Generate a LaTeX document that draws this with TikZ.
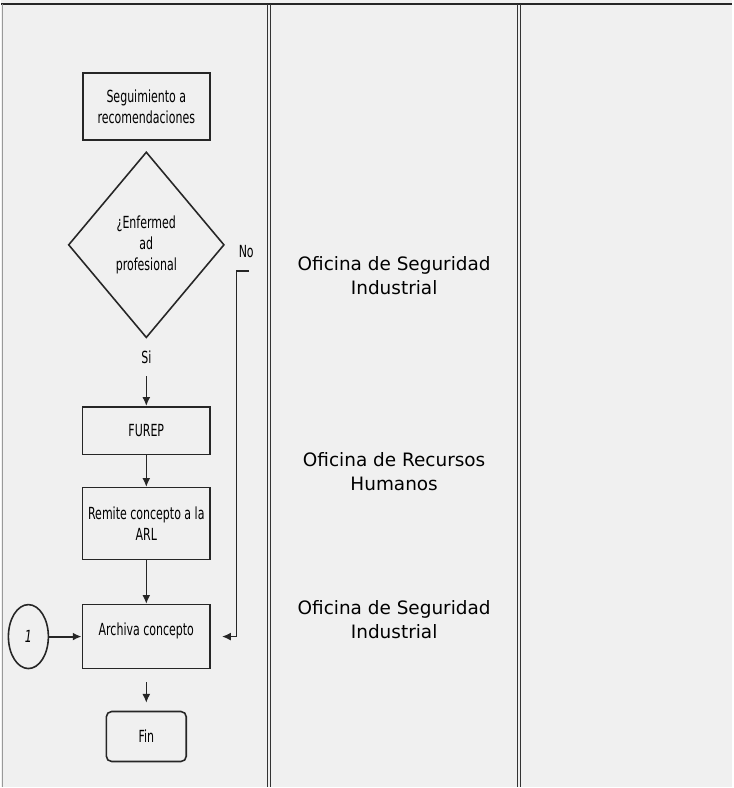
\documentclass[tikz,border=0pt]{standalone}
\usepackage{fontspec}
\setmainfont{DejaVu Sans}
\newfontfamily\boxfont[FakeStretch=0.66]{DejaVu Sans}
\usetikzlibrary{arrows.meta,shapes.geometric}

\begin{document}
\begin{tikzpicture}[x=0.02cm,y=-0.02cm,
  paper/.style={fill=black!6},
  rule/.style={black!80,line width=0.6pt},
  proc/.style={draw=black!85,line width=0.9pt,align=center,inner sep=1pt,minimum width=2.56cm,
    font={\boxfont\fontsize{9.5}{12}\selectfont}},
  dec/.style={diamond,draw=black!85,line width=0.9pt,align=center,inner sep=0pt,aspect=0.84,
    minimum width=3.12cm,minimum height=3.72cm,font={\boxfont\fontsize{9.5}{12}\selectfont}},
  conn/.style={ellipse,draw=black!85,line width=0.9pt,inner sep=0pt,minimum width=0.8cm,
    minimum height=1.28cm,font={\boxfont\fontsize{9.5}{12}\selectfont}},
  lbl/.style={inner sep=1pt,font={\boxfont\fontsize{9.5}{12}\selectfont}},
  area/.style={align=center,font={\fontsize{10.5}{13.6}\selectfont}},
  flow/.style={black!85,line width=0.8pt,-{Latex[length=5pt,width=4.5pt]}}]
  \fill[paper] (0,0) rectangle (731,788);
  % table frame
  \draw[black!85,line width=1.6pt] (0,4) -- (731,4);
  \draw[black!40,line width=0.5pt] (1.5,4) -- (1.5,788);
  \foreach \x in {266,269.5,516,519.5}
    \draw[rule] (\x,4) -- (\x,788);
  % flow column
  \node[proc,minimum width=2.54cm,minimum height=1.34cm] (seg) at (145,106.5) {Seguimiento a\\recomendaciones};
  \node[dec] (enf) at (145,245) {¿Enfermed\\ad\\profesional};
  \node[lbl] (no) at (245,252) {No};
  \node[lbl] (si) at (145,358) {Si};
  \node[proc,minimum height=0.96cm] (furep) at (145,431) {FUREP};
  \node[proc,minimum height=1.44cm] (remite) at (145,524) {Remite concepto a la\\ARL};
  \node[proc,minimum height=1.28cm] (archiva) at (145,637) {\raisebox{8pt}{Archiva concepto}};
  \node[proc,rounded corners=3pt,minimum width=1.6cm,minimum height=1cm] (fin) at (145,737) {Fin};
  \node[conn] (uno) at (27,637) {\itshape 1};
  % areas
  \node[area] (ofsegA) at (393,275.5) {Oficina de Seguridad\\Industrial};
  \node[area] (ofrh) at (393,471.5) {Oficina de Recursos\\Humanos};
  \node[area] (ofsegB) at (393,620) {Oficina de Seguridad\\Industrial};
  % connectors
  \coordinate (nostart) at (248,271);
  \draw[flow,shorten <=0.2cm] (si) -- (furep);
  \draw[flow] (furep) -- (remite);
  \draw[flow] (remite) -- (archiva);
  \draw[flow,shorten <=0.26cm,shorten >=0.16cm] (archiva) -- (fin);
  \draw[flow,line width=1.2pt] (uno) -- (archiva);
  \draw[flow] (nostart) -- ++(-13,0) |- ([xshift=0.22cm]archiva.east);
\end{tikzpicture}
\end{document}
